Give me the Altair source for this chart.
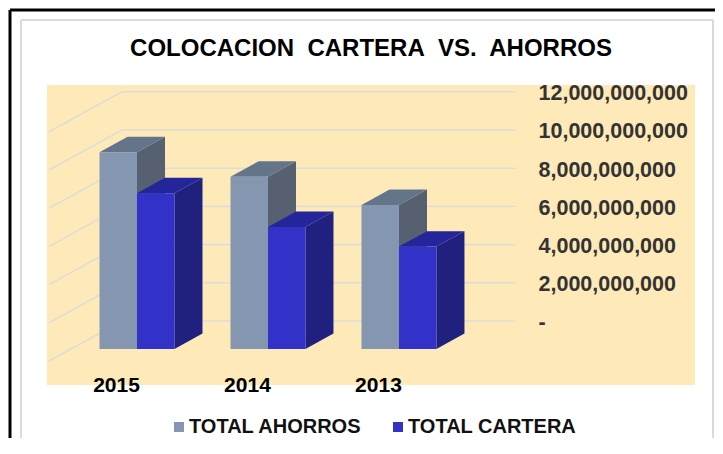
import json
import altair as alt
import pandas as pd

years = ["2015", "2014", "2013"]
ahorros = [10.30e9, 9.02e9, 7.54e9]
cartera = [8.15e9, 6.39e9, 5.36e9]
ticks = [0, 2e9, 4e9, 6e9, 8e9, 10e9, 12e9]
series_names = ["TOTAL AHORROS", "TOTAL CARTERA"]

# projection of the 3D box, in data units
BAR_W = 0.286
DX = 0.214
DY = 0.81e9
FRONT_SHIFT = -1.466e9
WALL_LEFT, WALL_RIGHT, FLOOR_LEFT = -0.1145, 2.891, -0.672
FLOOR_DROP = 2.094e9

XDOM = [-0.687, 4.26]
YDOM = [-3.351e9, 12.356e9]
xs = alt.Scale(domain=XDOM, nice=False, zero=False)
ys = alt.Scale(domain=YDOM, nice=False, zero=False)

grid_rows = []
for t in ticks:
    grid_rows += [
        {"t": t, "x": FLOOR_LEFT, "y": t - FLOOR_DROP},
        {"t": t, "x": WALL_LEFT, "y": t},
        {"t": t, "x": WALL_RIGHT, "y": t},
    ]
grid_df = pd.DataFrame(grid_rows)

front, side, top = [], [], []
for s, (name, vals) in enumerate(zip(series_names, [ahorros, cartera])):
    for i, v in enumerate(vals):
        x0 = i + (s - 1) * BAR_W
        x1 = x0 + BAR_W
        base = FRONT_SHIFT
        head = v + FRONT_SHIFT
        front.append({"series": name, "year": years[i], "x": x0, "x2": x1, "y": base, "y2": head})
        side += [
            {"series": name, "b": i, "x": x1, "y": base, "y2": head},
            {"series": name, "b": i, "x": x1 + DX, "y": base + DY, "y2": head + DY},
        ]
        top += [
            {"series": name, "b": i, "x": x0, "y": head, "y2": head},
            {"series": name, "b": i, "x": x0 + DX, "y": head, "y2": head + DY},
            {"series": name, "b": i, "x": x1, "y": head, "y2": head + DY},
            {"series": name, "b": i, "x": x1 + DX, "y": head + DY, "y2": head + DY},
        ]
front_df, side_df, top_df = map(pd.DataFrame, (front, side, top))

FONT = "Liberation Sans"
COL = {"front": ["#8496B0", "#3232C8"], "side": ["#566070", "#20207F"], "top": ["#64748A", "#24249B"]}
GRID = "#DEDDD5"

x_axis = alt.Axis(
    values=[0, 1, 2],
    labelExpr=f"{json.dumps(years)}[datum.value]",
    labelOffset=-21, labelPadding=0, labelBaseline="middle", labelAngle=0,
    domain=False, ticks=False, grid=False, title=None,
    labelFont=FONT, labelFontWeight="bold", labelFontSize=21, labelColor="#000000",
)
y_axis = alt.Axis(
    values=ticks, orient="right", offset=-157,
    labelExpr="datum.value == 0 ? '-' : format(datum.value, ',')",
    labelAlign="left", labelPadding=0, labelOffset=2, labelBaseline="middle",
    domain=False, ticks=False, grid=False, title=None,
    labelFont=FONT, labelFontWeight="bold", labelFontSize=21.5, labelColor="#333333",
    labelBound=False, labelFlush=False, labelOverlap=False,
)

grid = alt.Chart(grid_df).mark_line(color=GRID, strokeWidth=1.6).encode(
    x=alt.X("x:Q", scale=xs, axis=x_axis),
    y=alt.Y("y:Q", scale=ys, axis=y_axis),
    detail="t:N", order=alt.Order("x:Q"),
)

def face(df, series, col):
    return alt.Chart(df[df.series == series]).mark_area(color=col, opacity=1, orient="vertical").encode(
        x=alt.X("x:Q", scale=xs, axis=x_axis),
        y=alt.Y("y:Q", scale=ys, axis=y_axis, stack=None),
        y2="y2:Q",
        detail="b:N",
    )

def front_face(series):
    return alt.Chart(front_df[front_df.series == series]).mark_rect().encode(
        x=alt.X("x:Q", scale=xs, axis=x_axis), x2="x2:Q",
        y=alt.Y("y:Q", scale=ys, axis=y_axis), y2="y2:Q",
        color=alt.Color("series:N", scale=alt.Scale(domain=series_names, range=COL["front"]),
            legend=alt.Legend(
                orient="none", legendX=122, legendY=332, direction="horizontal", title=None,
                symbolType="square", symbolSize=100, symbolStrokeWidth=0, columns=2,
                labelFont=FONT, labelFontWeight="bold", labelFontSize=20, labelColor="#111111",
                labelLimit=300, labelOffset=0, columnPadding=26)),
    )

# outer picture frame, in pixels relative to the plot area
def frame(x, x2, y, y2, col, w):
    return alt.Chart(pd.DataFrame({"k": [0]})).mark_rule(color=col, strokeWidth=w).encode(
        x=alt.value(x), x2=alt.value(x2), y=alt.value(y), y2=alt.value(y2))

frames = [
    frame(-37, 680, -75, -75, "#000000", 3),
    frame(-37, -37, -75, 375, "#000000", 3),
    frame(-26, 666, -65, -65, "#DADADA", 2),
    frame(-26, -26, -65, 360, "#DADADA", 2),
    frame(666, 666, -65, 360, "#DADADA", 2),
    frame(-26, 666, 360, 360, "#DADADA", 2),
]

layers = frames + [grid]
for s, name in enumerate(series_names):
    layers += [
        face(side_df, name, COL["side"][s]),
        face(top_df, name, COL["top"][s]),
        front_face(name),
    ]

chart = alt.layer(*layers).properties(
    width=648, height=300,
    autosize=alt.AutoSizeParams(type="none"),
    padding={"left": 39, "top": 77, "right": 20, "bottom": 53},
    background="#FFFFFF",
    title=alt.TitleParams("COLOCACION\u00a0 CARTERA\u00a0 VS.\u00a0 AHORROS", anchor="middle", font=FONT,
                          fontWeight="bold", fontSize=24, color="#000000", offset=-52),
).configure_view(fill="#FEEAB8", stroke=None)

chart.save("out.html", embed_options={"renderer": "svg", "actions": False})
